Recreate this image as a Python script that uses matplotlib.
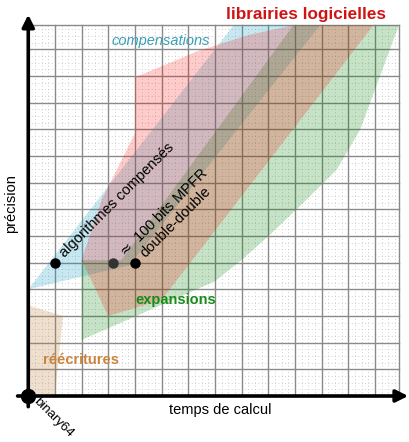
import numpy as np
import matplotlib.pyplot as plt
from matplotlib.patches import Polygon

plt.rcParams['font.family'] = ['Liberation Sans', 'DejaVu Sans']

# zones (grid units: temps de calcul, précision)
rewrite_x = [0.0, 1.3, 1.0, 0.0]
rewrite_y = [3.4, 3.0, 0.0, 0.0]

comp_x = [0.0, 3.8, 10.94, 7.7]
comp_y = [4.0, 4.9, 13.9, 13.9]

lib_x = [3.0, 5.0, 12.94, 9.94, 8.3, 6.4, 4.0, 4.0, 2.75, 2.0]
lib_y = [3.0, 3.6, 13.9, 13.9, 13.55, 12.95, 11.95, 9.85, 7.35, 5.1]

exp_x = [2.0, 7.0, 8.0, 9.06, 10.3, 11.56, 12.44, 13.9, 9.94, 3.5, 2.0]
exp_y = [2.1, 4.3, 5.1, 6.04, 7.23, 8.47, 9.97, 13.9, 13.9, 5.1, 5.1]

# points
pt_names = ["algorithmes compensés", r"$\approx$ 100 bits MPFR", "double-double"]
pt_x = [1.0, 3.19, 4.0]
pt_y = [5.0, 5.0, 5.0]
pt_colors = ["black", "#333333", "black"]

fig = plt.figure(figsize=(4.09, 4.42), dpi=100)
ax = fig.add_axes([0, 0, 1, 1])
ax.set_xlim(-1.06, 14.28)
ax.set_ylim(-1.725, 14.85)
ax.set_axis_off()

top = 13.9
# minor dotted grid
for v in np.arange(0, top, 0.25):
    ax.plot([v, v], [0, top], color="#c0c0c0", lw=0.6, ls=(0, (1, 3)), zorder=1)
    ax.plot([0, top], [v, v], color="#c0c0c0", lw=0.6, ls=(0, (1, 3)), zorder=1)
# major grid
for v in list(range(0, 14)) + [top]:
    ax.plot([v, v], [0, top], color="#8a8a8a", lw=1.0, zorder=1)
    ax.plot([0, top], [v, v], color="#8a8a8a", lw=1.0, zorder=1)

ax.add_patch(Polygon(np.column_stack([rewrite_x, rewrite_y]), closed=True,
                     facecolor=(0.75, 0.5, 0.25), alpha=0.25, lw=0, zorder=2))
ax.add_patch(Polygon(np.column_stack([comp_x, comp_y]), closed=True,
                     facecolor=(0.0, 0.6, 0.75), alpha=0.22, lw=0, zorder=2))
ax.add_patch(Polygon(np.column_stack([exp_x, exp_y]), closed=True,
                     facecolor=(0.0, 0.5, 0.0), alpha=0.22, lw=0, zorder=2))
ax.add_patch(Polygon(np.column_stack([lib_x, lib_y]), closed=True,
                     facecolor=(1.0, 0.0, 0.0), alpha=0.2, lw=0, zorder=2))

# axes arrows
ax.annotate("", xy=(14.25, 0), xytext=(-0.4, 0),
            arrowprops=dict(arrowstyle="-|>", lw=2.6, color="black", mutation_scale=18,
                            shrinkA=0, shrinkB=0), zorder=5)
ax.annotate("", xy=(0, 14.3), xytext=(0, -0.4),
            arrowprops=dict(arrowstyle="-|>", lw=2.6, color="black", mutation_scale=18,
                            shrinkA=0, shrinkB=0), zorder=5)
ax.plot([0], [0], "o", color="black", ms=10, zorder=6)

ax.text(7.19, -0.52, "temps de calcul", ha="center", va="center", fontsize=10.5)
ax.text(-0.63, 7.2, "précision", ha="center", va="center", rotation=90, fontsize=10.5)
ax.text(0.25, -0.15, "binary64", ha="left", va="center", rotation=-45,
        rotation_mode="anchor", fontsize=9.5)

for name, x, y, c in zip(pt_names, pt_x, pt_y, pt_colors):
    ax.plot([x], [y], "o", color=c, ms=6.5, zorder=6)
    ax.text(x + 0.28, y + 0.28, name, ha="left", va="center", rotation=45,
            rotation_mode="anchor", fontsize=10.5, zorder=7)

ax.text(10.42, 14.32, "librairies logicielles", ha="center", va="center",
        color="#d01414", fontsize=12.3, fontweight="bold")
ax.text(4.97, 13.31, "compensations", ha="center", va="center",
        color="#3a9fb8", fontsize=10.5, style="italic")
ax.text(5.53, 3.6, "expansions", ha="center", va="center",
        color="#1a8c1a", fontsize=10.5, fontweight="bold")
ax.text(1.98, 1.35, "réécritures", ha="center", va="center",
        color="#c8853e", fontsize=10.5, fontweight="bold")

fig.savefig("out.png", dpi=100)
